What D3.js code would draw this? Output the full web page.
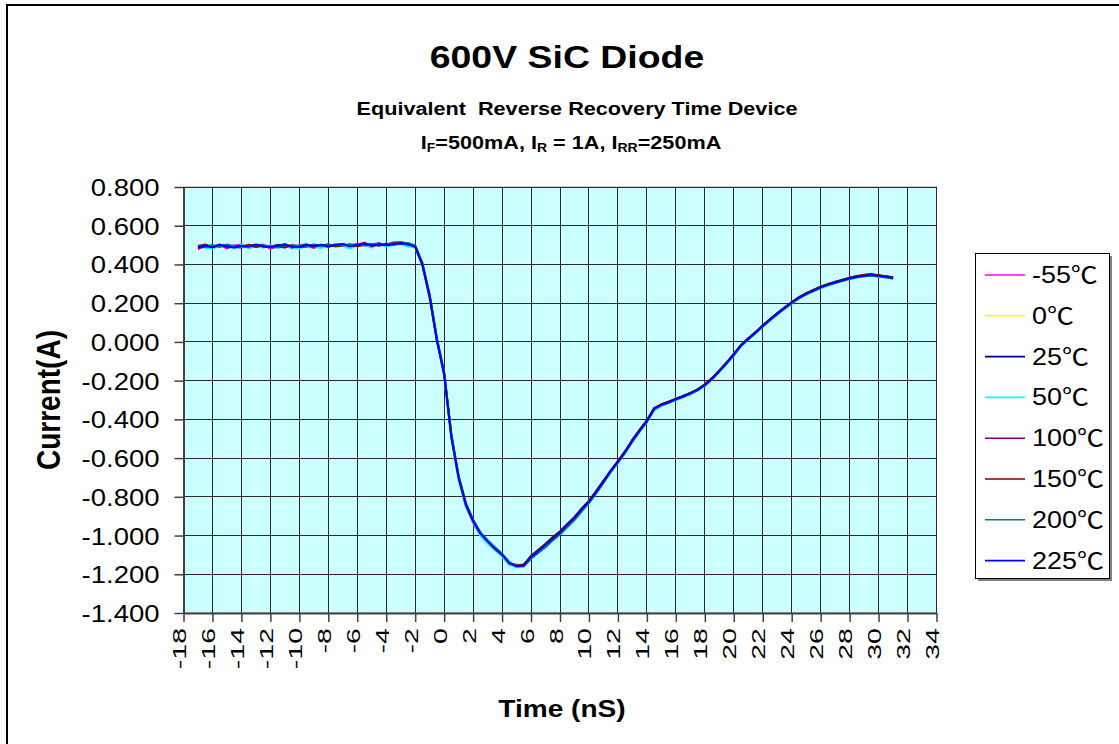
<!DOCTYPE html>
<html>
<head>
<meta charset="utf-8">
<script src="https://cdn.jsdelivr.net/npm/d3@7"></script>
<style>
  body { margin: 0; background: #fff; }
  text { font-family: "Liberation Sans", Arial, "Noto Sans CJK SC", sans-serif; fill: #000; }
</style>
</head>
<body>
<div id="chart"></div>
<script>
// time axis, nS
var time = [
  -17, -16.5, -16, -15.5, -15, -14.5, -14, -13.5, -13, -12.5,
  -12, -11.5, -11, -10.5, -10, -9.5, -9, -8.5, -8, -7.5,
  -7, -6.5, -6, -5.5, -5, -4.5, -4, -3.5, -3, -2.5,
  -2, -1.5, -1, -0.5, 0, 0.5, 1, 1.5, 2, 2.5,
  3, 3.5, 4, 4.5, 5, 5.5, 6, 6.5, 7, 7.5,
  8, 8.5, 9, 9.5, 10, 10.5, 11, 11.5, 12, 12.5,
  13, 13.5, 14, 14.5, 15, 15.5, 16, 16.5, 17, 17.5,
  18, 18.5, 19, 19.5, 20, 20.5, 21, 21.5, 22, 22.5,
  23, 23.5, 24, 24.5, 25, 25.5, 26, 26.5, 27, 27.5,
  28, 28.5, 29, 29.5, 30, 30.5, 31
]

// current (A) per temperature
var cur_m55 = [
  0.478, 0.497, 0.492, 0.503, 0.482, 0.496, 0.505, 0.484, 0.498, 0.503,
  0.480, 0.494, 0.502, 0.483, 0.497, 0.496, 0.485, 0.502, 0.488, 0.506,
  0.497, 0.485, 0.507, 0.500, 0.489, 0.512, 0.493, 0.503, 0.511, 0.498,
  0.495, 0.395, 0.225, 0.005, -0.175, -0.495, -0.710, -0.850, -0.935, -0.998,
  -1.040, -1.060, -1.095, -1.150, -1.150, -1.160, -1.115, -1.075, -1.055, -1.020,
  -0.990, -0.950, -0.905, -0.870, -0.830, -0.770, -0.718, -0.672, -0.615, -0.572,
  -0.505, -0.462, -0.405, -0.350, -0.330, -0.308, -0.300, -0.278, -0.270, -0.244,
  -0.226, -0.186, -0.155, -0.105, -0.070, -0.022, 0.020, 0.044, 0.086, 0.110,
  0.150, 0.170, 0.206, 0.224, 0.252, 0.262, 0.287, 0.292, 0.311, 0.314,
  0.332, 0.333, 0.347, 0.352, 0.338, 0.340, 0.334
]
var cur_0 = [
  0.494, 0.490, 0.497, 0.495, 0.499, 0.490, 0.493, 0.498, 0.495, 0.488,
  0.496, 0.493, 0.495, 0.499, 0.486, 0.497, 0.500, 0.493, 0.498, 0.504,
  0.500, 0.499, 0.495, 0.503, 0.501, 0.500, 0.503, 0.509, 0.506, 0.502,
  0.488, 0.392, 0.232, 0.015, -0.160, -0.485, -0.705, -0.845, -0.930, -0.985,
  -1.035, -1.070, -1.105, -1.140, -1.155, -1.150, -1.112, -1.084, -1.044, -1.010,
  -0.980, -0.950, -0.915, -0.860, -0.820, -0.780, -0.725, -0.665, -0.624, -0.565,
  -0.515, -0.455, -0.412, -0.348, -0.322, -0.315, -0.292, -0.285, -0.262, -0.250,
  -0.218, -0.194, -0.146, -0.113, -0.061, -0.015, 0.012, 0.052, 0.079, 0.118,
  0.141, 0.178, 0.199, 0.232, 0.245, 0.270, 0.279, 0.299, 0.304, 0.321,
  0.325, 0.340, 0.339, 0.349, 0.344, 0.333, 0.327
]
var cur_25 = [
  0.487, 0.496, 0.491, 0.499, 0.492, 0.491, 0.495, 0.494, 0.500, 0.491,
  0.492, 0.500, 0.497, 0.495, 0.493, 0.498, 0.492, 0.500, 0.497, 0.496,
  0.502, 0.497, 0.498, 0.503, 0.501, 0.501, 0.502, 0.504, 0.508, 0.507,
  0.494, 0.398, 0.238, 0.012, -0.168, -0.488, -0.698, -0.838, -0.922, -0.993,
  -1.033, -1.065, -1.103, -1.146, -1.160, -1.152, -1.107, -1.078, -1.050, -1.012,
  -0.982, -0.948, -0.908, -0.862, -0.828, -0.772, -0.720, -0.670, -0.618, -0.570,
  -0.512, -0.456, -0.407, -0.347, -0.328, -0.310, -0.298, -0.280, -0.268, -0.246,
  -0.224, -0.188, -0.152, -0.108, -0.067, -0.020, 0.017, 0.046, 0.084, 0.113,
  0.147, 0.173, 0.204, 0.226, 0.250, 0.264, 0.284, 0.294, 0.309, 0.316,
  0.330, 0.335, 0.344, 0.344, 0.343, 0.338, 0.332
]
var cur_50 = [
  0.496, 0.486, 0.482, 0.498, 0.500, 0.481, 0.503, 0.484, 0.499, 0.486,
  0.499, 0.485, 0.498, 0.488, 0.481, 0.503, 0.491, 0.485, 0.498, 0.503,
  0.496, 0.482, 0.499, 0.502, 0.488, 0.505, 0.494, 0.500, 0.506, 0.491,
  0.490, 0.405, 0.228, 0.004, -0.172, -0.500, -0.712, -0.848, -0.932, -1.000,
  -1.042, -1.075, -1.108, -1.148, -1.165, -1.158, -1.118, -1.088, -1.058, -1.022,
  -0.992, -0.955, -0.918, -0.872, -0.832, -0.780, -0.728, -0.674, -0.626, -0.574,
  -0.516, -0.462, -0.414, -0.352, -0.330, -0.316, -0.300, -0.286, -0.270, -0.252,
  -0.226, -0.194, -0.154, -0.114, -0.069, -0.022, 0.011, 0.044, 0.078, 0.111,
  0.141, 0.171, 0.198, 0.224, 0.244, 0.262, 0.278, 0.292, 0.303, 0.314,
  0.324, 0.333, 0.338, 0.342, 0.337, 0.332, 0.326
]
var cur_100 = [
  0.495, 0.503, 0.490, 0.499, 0.488, 0.498, 0.493, 0.499, 0.501, 0.492,
  0.490, 0.496, 0.506, 0.489, 0.497, 0.504, 0.490, 0.501, 0.492, 0.503,
  0.506, 0.495, 0.502, 0.512, 0.494, 0.504, 0.502, 0.514, 0.515, 0.509,
  0.490, 0.397, 0.230, 0.008, -0.163, -0.487, -0.702, -0.842, -0.927, -0.988,
  -1.028, -1.066, -1.098, -1.141, -1.156, -1.153, -1.108, -1.079, -1.046, -1.014,
  -0.983, -0.943, -0.908, -0.863, -0.823, -0.773, -0.720, -0.666, -0.618, -0.566,
  -0.508, -0.456, -0.408, -0.343, -0.323, -0.310, -0.294, -0.280, -0.264, -0.246,
  -0.220, -0.188, -0.148, -0.108, -0.063, -0.016, 0.017, 0.050, 0.084, 0.117,
  0.147, 0.177, 0.204, 0.230, 0.250, 0.268, 0.284, 0.298, 0.309, 0.320,
  0.330, 0.339, 0.344, 0.348, 0.343, 0.338, 0.332
]
var cur_150 = [
  0.486, 0.492, 0.497, 0.493, 0.500, 0.490, 0.488, 0.502, 0.490, 0.498,
  0.492, 0.493, 0.487, 0.500, 0.491, 0.492, 0.503, 0.495, 0.504, 0.493,
  0.498, 0.504, 0.494, 0.501, 0.506, 0.497, 0.507, 0.502, 0.511, 0.502,
  0.496, 0.402, 0.240, 0.014, -0.160, -0.483, -0.695, -0.835, -0.920, -0.985,
  -1.025, -1.063, -1.097, -1.140, -1.155, -1.150, -1.105, -1.074, -1.042, -1.008,
  -0.978, -0.940, -0.904, -0.860, -0.820, -0.770, -0.717, -0.663, -0.615, -0.563,
  -0.505, -0.453, -0.405, -0.342, -0.322, -0.309, -0.293, -0.279, -0.263, -0.245,
  -0.219, -0.187, -0.147, -0.107, -0.062, -0.015, 0.018, 0.051, 0.085, 0.118,
  0.148, 0.178, 0.205, 0.231, 0.251, 0.269, 0.285, 0.299, 0.310, 0.321,
  0.331, 0.340, 0.345, 0.349, 0.344, 0.339, 0.333
]
var cur_200 = [
  0.498, 0.493, 0.501, 0.490, 0.503, 0.495, 0.487, 0.495, 0.500, 0.498,
  0.494, 0.489, 0.501, 0.496, 0.498, 0.494, 0.500, 0.494, 0.502, 0.497,
  0.502, 0.500, 0.506, 0.498, 0.504, 0.509, 0.499, 0.509, 0.504, 0.511,
  0.498, 0.410, 0.245, 0.020, -0.155, -0.478, -0.690, -0.832, -0.918, -0.982,
  -1.024, -1.060, -1.094, -1.137, -1.160, -1.158, -1.120, -1.090, -1.060, -1.025,
  -0.995, -0.957, -0.920, -0.875, -0.833, -0.782, -0.728, -0.672, -0.624, -0.572,
  -0.514, -0.462, -0.414, -0.350, -0.327, -0.314, -0.298, -0.284, -0.268, -0.250,
  -0.225, -0.193, -0.153, -0.113, -0.068, -0.021, 0.012, 0.045, 0.079, 0.112,
  0.142, 0.172, 0.199, 0.225, 0.245, 0.263, 0.279, 0.293, 0.304, 0.315,
  0.325, 0.334, 0.339, 0.343, 0.338, 0.333, 0.327
]
var cur_225 = [
  0.490, 0.498, 0.488, 0.502, 0.494, 0.488, 0.497, 0.491, 0.503, 0.494,
  0.489, 0.497, 0.501, 0.493, 0.490, 0.500, 0.495, 0.502, 0.494, 0.499,
  0.505, 0.494, 0.500, 0.506, 0.498, 0.504, 0.499, 0.506, 0.510, 0.505,
  0.492, 0.400, 0.235, 0.010, -0.165, -0.490, -0.700, -0.840, -0.925, -0.990,
  -1.030, -1.068, -1.100, -1.143, -1.158, -1.155, -1.110, -1.080, -1.048, -1.015,
  -0.985, -0.945, -0.910, -0.865, -0.825, -0.775, -0.722, -0.668, -0.620, -0.568,
  -0.510, -0.458, -0.410, -0.345, -0.325, -0.312, -0.296, -0.282, -0.266, -0.248,
  -0.222, -0.190, -0.150, -0.110, -0.065, -0.018, 0.015, 0.048, 0.082, 0.115,
  0.145, 0.175, 0.202, 0.228, 0.248, 0.266, 0.282, 0.296, 0.307, 0.318,
  0.328, 0.337, 0.342, 0.346, 0.341, 0.336, 0.330
]

var seriesNames = ["-55", "0", "25", "50", "100", "150", "200", "225"]
var seriesValues = [cur_m55, cur_0, cur_25, cur_50, cur_100, cur_150, cur_200, cur_225]
var seriesColors = ["#FF00FF", "#FFFF00", "#000080", "#00FFFF", "#800080", "#800000", "#008080", "#0000FF"]

var xTicks = [-18, -16, -14, -12, -10, -8, -6, -4, -2, 0, 2, 4, 6, 8, 10, 12, 14, 16, 18, 20, 22, 24, 26, 28, 30, 32, 34]
var yTicks = [0.8, 0.6, 0.4, 0.2, 0, -0.2, -0.4, -0.6, -0.8, -1.0, -1.2, -1.4]
var yTickLabels = ["0.800", "0.600", "0.400", "0.200", "0.000", "-0.200", "-0.400", "-0.600", "-0.800", "-1.000", "-1.200", "-1.400"]

// layout
var width = 1119
    height = 744
    plot = {left: 183.5, right: 936.5, top: 187, bottom: 613}
    stretch = 1.17   // the original text is drawn a bit wide

var svg = d3.select("#chart")
  .append("svg")
    .attr("width", width)
    .attr("height", height)

// outer chart border
svg.append("rect")
  .attr("x", 7).attr("y", 5)
  .attr("width", width + 20).attr("height", height + 20)
  .attr("fill", "#fff")
  .attr("stroke", "#000")
  .attr("stroke-width", 2)

var x = d3.scaleLinear().domain([-18, 34]).range([plot.left, plot.right])
var y = d3.scaleLinear().domain([-1.4, 0.8]).range([plot.bottom, plot.top])

// plot background
svg.append("rect")
  .attr("x", plot.left).attr("y", plot.top)
  .attr("width", plot.right - plot.left)
  .attr("height", plot.bottom - plot.top)
  .attr("fill", "#CCFFFF")
  .attr("stroke", "#999")

// grid
var grid = svg.append("g").attr("shape-rendering", "crispEdges")
grid.selectAll(".vg").data(xTicks).enter().append("line")
  .attr("x1", d => x(d)).attr("x2", d => x(d))
  .attr("y1", plot.top).attr("y2", plot.bottom)
  .attr("stroke", "#2a2a2a").attr("stroke-width", 1)
grid.selectAll(".hg").data(yTicks).enter().append("line")
  .attr("x1", plot.left).attr("x2", plot.right)
  .attr("y1", d => y(d)).attr("y2", d => y(d))
  .attr("stroke", "#2a2a2a").attr("stroke-width", 1)

// series lines, first drawn first so 225C ends on top
var line = d3.line()
  .x((d, i) => x(time[i]))
  .y(d => y(d))

svg.selectAll(".series")
  .data(seriesValues)
  .enter()
  .append("path")
  .attr("d", d => line(d))
  .attr("fill", "none")
  .attr("stroke", (d, i) => seriesColors[i])
  .attr("stroke-width", 2)
  .attr("stroke-linejoin", "round")

// y axis
var yAxis = svg.append("g")
  .attr("transform", "translate(" + plot.left + ",0)")
  .call(d3.axisLeft(y).tickValues(yTicks).tickSize(9).tickSizeOuter(0)
    .tickFormat((d, i) => yTickLabels[i]))
yAxis.select(".domain").attr("stroke", "#404040").attr("stroke-width", 2)
yAxis.selectAll(".tick line").attr("stroke", "#404040").attr("stroke-width", 1.5)
yAxis.selectAll(".tick text")
  .attr("x", 0).attr("dy", null)
  .attr("transform", "translate(-24,8.5) scale(" + stretch + ",1)")
  .style("font-size", "23.5px")
  .attr("fill", "#000")

// x axis
var xAxis = svg.append("g")
  .attr("transform", "translate(0," + plot.bottom + ")")
  .call(d3.axisBottom(x).tickValues(xTicks).tickSize(9).tickSizeOuter(0)
    .tickFormat(d => String(d)))
xAxis.select(".domain").attr("stroke", "#404040").attr("stroke-width", 2)
xAxis.selectAll(".tick line").attr("stroke", "#404040").attr("stroke-width", 1.5)
xAxis.selectAll(".tick text")
  .attr("x", 0).attr("y", 0).attr("dy", null)
  .attr("text-anchor", "end")
  .attr("transform", "translate(2,15) rotate(-90) scale(1.7,1.05)")
  .style("font-size", "16.8px")
  .attr("fill", "#000")

// titles
function wideText(cx, cy, str, size) {
  return svg.append("text")
    .attr("transform", "translate(" + cx + "," + cy + ") scale(" + stretch + ",1)")
    .attr("text-anchor", "middle")
    .style("font-size", size + "px")
    .style("font-weight", "bold")
    .style("white-space", "pre")
    .text(str)
}
wideText(567, 68, "600V SiC Diode", 32)
wideText(577, 115, "Equivalent  Reverse Recovery Time Device", 18.5)

var sub = svg.append("text")
  .attr("transform", "translate(571,149) scale(" + stretch + ",1)")
  .attr("text-anchor", "middle")
  .style("font-size", "18.5px")
  .style("font-weight", "bold")
var parts = [["I", 0], ["F", 1], ["=500mA, I", 0], ["R", 1], [" = 1A, I", 0], ["RR", 1], ["=250mA", 0]]
parts.forEach(function(p) {
  sub.append("tspan")
    .attr("baseline-shift", p[1] ? "-3" : null)
    .style("font-size", p[1] ? "12px" : null)
    .style("white-space", "pre")
    .text(p[0])
})

wideText(562, 717, "Time (nS)", 24)

svg.append("text")
  .attr("transform", "translate(60,400) rotate(-90) scale(1," + stretch + ")")
  .attr("text-anchor", "middle")
  .style("font-size", "28px")
  .style("font-weight", "bold")
  .text("Current(A)")

// legend
var legend = svg.append("g")
legend.append("rect")
  .attr("x", 978).attr("y", 256).attr("width", 134).attr("height", 325)
  .attr("fill", "#808080")
legend.append("rect")
  .attr("x", 975.5).attr("y", 253.5).attr("width", 134).attr("height", 325)
  .attr("fill", "#fff").attr("stroke", "#000").attr("stroke-width", 1)

var items = legend.selectAll(".item")
  .data(seriesNames)
  .enter()
  .append("g")
  .attr("transform", (d, i) => "translate(0," + (275 + i * 40.8) + ")")
items.append("line")
  .attr("x1", 985).attr("x2", 1025)
  .attr("stroke", (d, i) => seriesColors[i])
  .attr("stroke-width", 1.6)
var itemText = items.append("text")
  .attr("transform", "translate(1032,8) scale(" + stretch + ",1)")
  .style("font-size", "23px")
itemText.append("tspan").text(d => d)
itemText.append("tspan")
  .style("font-family", "'Noto Sans CJK SC', sans-serif")
  .text("℃")
</script>
</body>
</html>
